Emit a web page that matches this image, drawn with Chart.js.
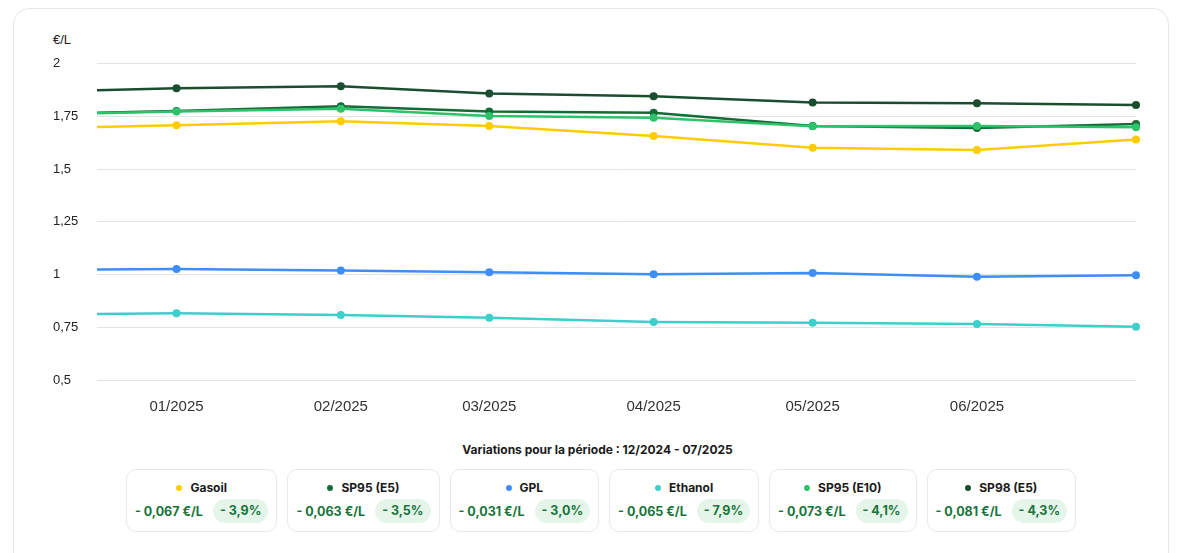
<!DOCTYPE html>
<html>
<head>
<meta charset="utf-8">
<script src="https://cdn.jsdelivr.net/npm/chart.js@4.4.1/dist/chart.umd.min.js"></script>
<style>
  body { margin: 0; background: #fff; width: 1195px; height: 553px; overflow: hidden; position: relative; font-family: "Liberation Sans", Arial, sans-serif; }
  .card { position: absolute; left: 13px; top: 8px; width: 1156px; height: 600px; border: 1px solid #e6e6e6; border-radius: 16px; box-sizing: border-box; }
  .unit { position: absolute; left: 53px; top: 32px; font-size: 13px; color: #222; }
  .wrap { position: absolute; left: 53px; top: 53px; width: 1100px; height: 372px; }
  .title { position: absolute; left: 0; width: 1195px; top: 442px; text-align: center; font-family: Inter, sans-serif; font-weight: 700; font-size: 12px; color: #1a1a1a; }
  .boxes { position: absolute; left: 126px; top: 469px; display: flex; gap: 10px; }
  .box { border: 1px solid #e8e8e8; border-radius: 10px; height: 63px; box-sizing: border-box; padding: 0 8px; font-family: Inter, sans-serif; font-weight: 700; }
  .box .name { text-align: center; font-size: 12px; color: #1a1a1a; margin-top: 10px; height: 16px; line-height: 16px; }
  .box .dot { display: inline-block; width: 6px; height: 6px; border-radius: 50%; margin-right: 8px; vertical-align: middle; position: relative; top: -1px; }
  .box .row { display: flex; align-items: center; gap: 10px; margin-top: 3px; font-size: 12.5px; color: #17743a; }
  .box .pill { background: #e5f5ea; border-radius: 12px; height: 24px; line-height: 24px; padding: 0 7px; }
</style>
</head>
<body>
<div class="card"></div>
<div class="unit">€/L</div>
<div class="wrap"><canvas id="mycanvas"></canvas></div>
<div class="title">Variations pour la période : 12/2024 - 07/2025</div>
<div class="boxes" id="boxes"></div>
<script>
// jours depuis le 01/01/2025
var jours = [-31, 0, 31, 59, 90, 120, 151, 181];
var tickJours = [0, 31, 59, 90, 120, 151];
var tickLabels = ["01/2025", "02/2025", "03/2025", "04/2025", "05/2025", "06/2025"];

var noms = ["Gasoil", "SP95 (E5)", "GPL", "Ethanol", "SP95 (E10)", "SP98 (E5)"];
var couleurs = ["#ffcc00", "#146b35", "#3d8ef8", "#3dcfcc", "#2ec26a", "#1b4d30"];

var Gasoil = [1.692, 1.709, 1.727, 1.705, 1.658, 1.602, 1.591, 1.641];
var SP95E5 = [1.759, 1.776, 1.799, 1.774, 1.768, 1.705, 1.696, 1.714];
var GPL = [1.020, 1.027, 1.019, 1.011, 1.002, 1.007, 0.990, 0.997];
var Ethanol = [0.810, 0.817, 0.808, 0.795, 0.775, 0.772, 0.766, 0.753];
var SP95E10 = [1.757, 1.774, 1.787, 1.752, 1.744, 1.704, 1.705, 1.699];
var SP98E5 = [1.864, 1.884, 1.893, 1.859, 1.846, 1.817, 1.813, 1.804];

var variationEuro = [-0.067, -0.063, -0.031, -0.065, -0.073, -0.081];
var variationPct = [-3.9, -3.5, -3.0, -7.9, -4.1, -4.3];

var series = [Gasoil, SP95E5, GPL, Ethanol, SP95E10, SP98E5];

Chart.defaults.font.family = '"Liberation Sans", Arial, sans-serif';

var datasets = [];
for (var i in series) {
  var pts = [];
  for (var j in jours) {
    pts.push({ x: jours[j], y: series[i][j] });
  }
  datasets.push({
    label: noms[i],
    data: pts,
    borderColor: couleurs[i],
    backgroundColor: couleurs[i],
    borderWidth: 2.5,
    pointRadius: 4,
    pointBorderWidth: 0,
    tension: 0,
    fill: false,
    order: noms[i] == "SP95 (E10)" ? 0 : 1,
    clip: { left: 0, right: 8, top: 8, bottom: 8 }
  });
}

function fr(v, d) {
  return v.toFixed(d).replace(".", ",");
}

var ctx = document.getElementById("mycanvas");
var LineGraph = new Chart(ctx, {
  type: "line",
  data: { datasets: datasets },
  options: {
    responsive: true,
    maintainAspectRatio: false,
    animation: false,
    layout: { padding: { right: 17, top: 0, bottom: 0, left: 0 } },
    plugins: { legend: { display: false }, tooltip: { enabled: false } },
    scales: {
      x: {
        type: "linear",
        min: -15,
        max: 181,
        grid: { display: false },
        border: { display: false },
        afterBuildTicks: function(axis) {
          axis.ticks = tickJours.map(function(v) { return { value: v }; });
        },
        afterFit: function(axis) { axis.height = 45; },
        ticks: {
          padding: 10,
          maxRotation: 0,
          autoSkip: false,
          color: "#333",
          font: { size: 15 },
          callback: function(v) { return tickLabels[tickJours.indexOf(v)]; }
        }
      },
      y: {
        min: 0.5,
        max: 2,
        grid: { color: "#e3e3e3", drawTicks: false },
        border: { display: false },
        afterFit: function(axis) { axis.width = 44; },
        ticks: {
          stepSize: 0.25,
          crossAlign: "far",
          color: "#222",
          font: { size: 13 },
          callback: function(v) { return String(v).replace(".", ","); }
        }
      }
    }
  }
});

var html = "";
for (var k in noms) {
  html += '<div class="box"><div class="name"><span class="dot" style="background:' + couleurs[k] + '"></span>' + noms[k] + '</div>' +
    '<div class="row"><span>- ' + fr(Math.abs(variationEuro[k]), 3) + ' €/L</span><span class="pill">- ' + fr(Math.abs(variationPct[k]), 1) + '%</span></div></div>';
}
document.getElementById("boxes").innerHTML = html;
</script>
</body>
</html>
